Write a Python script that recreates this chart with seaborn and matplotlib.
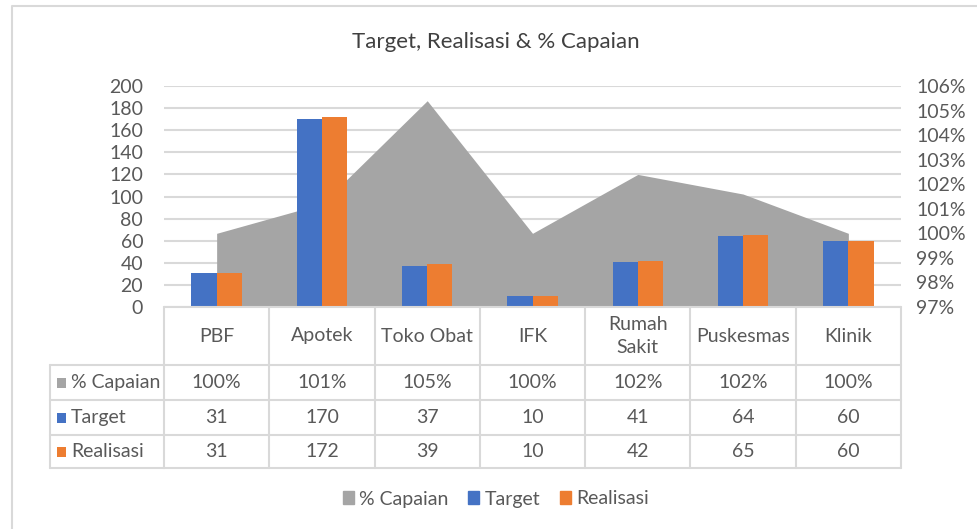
import numpy as np
import pandas as pd
import seaborn as sns
import matplotlib.pyplot as plt
import matplotlib.transforms as mtransforms
from matplotlib.patches import Patch, Rectangle
from matplotlib.lines import Line2D

# DATA
categories = ["PBF", "Apotek", "Toko Obat", "IFK", "Rumah Sakit", "Puskesmas", "Klinik"]
table_labels = ["PBF", "Apotek", "Toko Obat", "IFK", "Rumah\nSakit", "Puskesmas", "Klinik"]
target = [31, 170, 37, 10, 41, 64, 60]
realisasi = [31, 172, 39, 10, 42, 65, 60]
capaian = [100.0, 101.2, 105.4, 100.0, 102.4, 101.6, 100.0]
left_ticks = list(range(0, 201, 20))
right_ticks = list(range(97, 107))

C_TARGET = "#4472C4"
C_REAL = "#ED7D31"
C_CAP = "#A5A5A5"
C_GRID = "#D9D9D9"
C_TEXT = "#595959"
FS = 14

W, H = 977, 529

sns.set_theme(style="white")
plt.rcParams["font.family"] = ["Lato", "DejaVu Sans"]

fig = plt.figure(figsize=(W / 100, H / 100), dpi=100)

# plot area in pixels
px_left, px_right, px_top, px_bottom = 164, 901, 86, 307
rect = [px_left / W, 1 - px_bottom / H, (px_right - px_left) / W, (px_bottom - px_top) / H]

# layer 1: gridlines + left axis
ax = fig.add_axes(rect)
# layer 2: area on right axis
ax2 = ax.twinx()
# layer 3: bars on left scale
ax3 = ax.twinx()

df = pd.DataFrame({
    "Kategori": categories * 2,
    "Nilai": target + realisasi,
    "Seri": ["Target"] * len(categories) + ["Realisasi"] * len(categories),
})

sns.barplot(data=df, x="Kategori", y="Nilai", hue="Seri", order=categories,
            palette={"Target": C_TARGET, "Realisasi": C_REAL},
            width=0.48, gap=0, saturation=1, linewidth=0, legend=False, ax=ax3)

xs = np.arange(len(categories))
ax2.fill_between(xs, capaian, right_ticks[0], color=C_CAP, linewidth=0)

for a in (ax, ax2, ax3):
    a.set_xlim(-0.5, len(categories) - 0.5)
    for s in a.spines.values():
        s.set_visible(False)
    a.set_xlabel("")
    a.set_ylabel("")
    a.set_xticks([])

ax.set_ylim(0, 200)
ax3.set_ylim(0, 200)
ax2.set_ylim(97, 106)
ax2.patch.set_visible(False)
ax3.patch.set_visible(False)

ax.set_yticks(left_ticks)
ax.tick_params(axis="y", length=0, pad=15, labelsize=FS, labelcolor=C_TEXT)
ax.yaxis.grid(True, color=C_GRID, linewidth=1.5)
ax.set_axisbelow(True)

ax2.set_yticks(right_ticks)
ax2.yaxis.set_major_formatter(plt.FuncFormatter(lambda v, p: f"{v:.0f}%"))
ax2.tick_params(axis="y", length=0, pad=11, labelsize=FS, labelcolor=C_TEXT)
ax3.set_yticks([])

# title
fig.text(496 / W, 1 - 42 / H, "Target, Realisasi & % Capaian", ha="center", va="center",
         fontsize=16, color="#404040")

# DATA TABLE below the axis
tr = mtransforms.blended_transform_factory(ax.transData, fig.transFigure)
rows_px = [307, 365, 400, 435, 468]
rows_y = [1 - r / H for r in rows_px]
tab_left_px = 50
lw = 1.5

def hline(x0, x1, y, transform):
    fig.add_artist(Line2D([x0, x1], [y, y], color=C_GRID, lw=lw, transform=transform))

def vline(x, y0, y1, transform):
    fig.add_artist(Line2D([x, x], [y0, y1], color=C_GRID, lw=lw, transform=transform))

# horizontal lines of the category area
hline(-0.5, len(categories) - 0.5, rows_y[0], tr)
for y in rows_y[1:]:
    hline(-0.5, len(categories) - 0.5, y, tr)
    fig.add_artist(Line2D([tab_left_px / W, px_left / W], [y, y], color=C_GRID, lw=lw,
                          transform=fig.transFigure))
# vertical lines
for i in range(len(categories) + 1):
    vline(i - 0.5, rows_y[0], rows_y[-1], tr)
vline(tab_left_px / W, rows_y[1], rows_y[-1], fig.transFigure)

# header labels
for i, lab in enumerate(table_labels):
    fig.text(i, (rows_y[0] + rows_y[1]) / 2, lab, transform=tr, ha="center", va="center",
             fontsize=FS, color=C_TEXT, linespacing=1.45)

row_names = ["% Capaian", "Target", "Realisasi"]
row_colors = [C_CAP, C_TARGET, C_REAL]
row_values = [[f"{v / 100:.0%}" for v in capaian], [str(v) for v in target], [str(v) for v in realisasi]]
for r, (name, col, vals) in enumerate(zip(row_names, row_colors, row_values)):
    yc = (rows_y[r + 1] + rows_y[r + 2]) / 2
    fig.add_artist(Rectangle((57 / W, yc - 5 / H), 9 / W, 10 / H, facecolor=col,
                             edgecolor="none", transform=fig.transFigure))
    fig.text(71 / W, yc, name, ha="left", va="center", fontsize=FS, color=C_TEXT)
    for i, v in enumerate(vals):
        fig.text(i, yc, v, transform=tr, ha="center", va="center", fontsize=FS, color=C_TEXT)

# bottom legend
handles = [Patch(color=C_CAP, label="% Capaian"),
           Patch(color=C_TARGET, label="Target"),
           Patch(color=C_REAL, label="Realisasi")]
leg = fig.legend(handles=handles, loc="center", bbox_to_anchor=(496 / W, 1 - 499 / H), ncol=3,
                 frameon=False, fontsize=FS, handlelength=0.55, handleheight=0.65,
                 handletextpad=0.3, columnspacing=1.0)
for t in leg.get_texts():
    t.set_color(C_TEXT)

# outer chart border
fig.add_artist(Line2D([12 / W, 12 / W, 1], [0, 1 - 6 / H, 1 - 6 / H], color=C_GRID, lw=1.5,
                      transform=fig.transFigure))

fig.savefig("out.png", dpi=100)
